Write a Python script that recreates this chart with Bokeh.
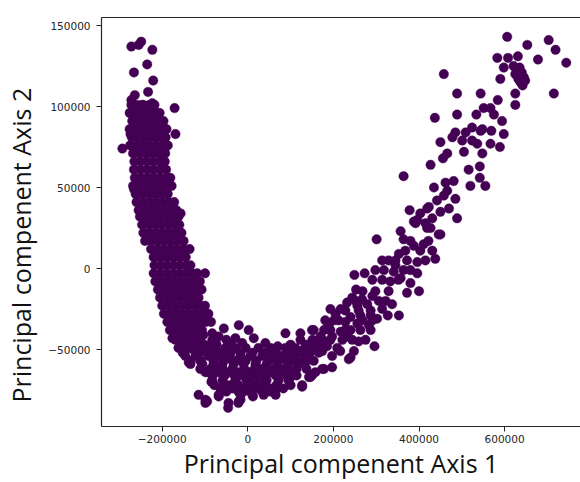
from bokeh.plotting import figure
from bokeh.models import (ColumnDataSource, LinearAxis, FixedTicker, Title,
                          Range1d, BasicTickFormatter)
from bokeh.embed import file_html
from bokeh.resources import INLINE

# ---------------- data ----------------
x_ticks = [-200000, 0, 200000, 400000, 600000]
y_ticks = [-50000, 0, 50000, 100000, 150000]
x_tick_labels = ["\u2212200000", "0", "200000", "400000", "600000"]
y_tick_labels = ["\u221250000", "0", "50000", "100000", "150000"]
x_label = "Principal compenent Axis 1"
y_label = "Principal compenent Axis 2"

# sparse top of the left branch
left_tip = [(-272000, 137000), (-255000, 138000), (-249000, 140000), (-223000, 135000),
            (-235000, 126000), (-266000, 121000), (-221000, 116000), (-233000, 109000),
            (-264000, 107000), (-272000, 104000), (-171000, 99000), (-247000, 101000),
            (-223000, 102000), (-212000, 96000), (-270000, 95000), (-204000, 91000),
            (-196000, 87000), (-169000, 83000), (-274000, 83000), (-293000, 74000),
            (-192000, 81000), (-192000, 75000), (-188000, 56000), (-157000, 34000),
            (-266000, 49000)]

# dense left branch: (pc2, [pc1 ...]) rows
left_rows = [
    (101000, [-272000, -258000, -244000, -230000, -218000]),
    (96000, [-276000, -262000, -248000, -234000, -220000, -206000]),
    (91000, [-270000, -255000, -240000, -225000, -210000, -197000]),
    (86000, [-276000, -262000, -247000, -232000, -217000, -202000, -190000]),
    (81000, [-271000, -256000, -241000, -226000, -211000, -196000]),
    (76000, [-275000, -260000, -245000, -230000, -215000, -200000, -187000]),
    (71000, [-268000, -253000, -238000, -223000, -208000, -193000]),
    (66000, [-265000, -250000, -235000, -220000, -205000, -194000]),
    (61000, [-266000, -251000, -236000, -221000, -206000, -191000]),
    (56000, [-264000, -249000, -234000, -219000, -204000, -189000, -181000]),
    (51000, [-268000, -253000, -238000, -223000, -208000, -193000, -178000]),
    (46000, [-262000, -247000, -232000, -217000, -202000, -187000]),
    (41000, [-260000, -245000, -230000, -215000, -200000, -185000, -172000]),
    (36000, [-255000, -240000, -225000, -210000, -195000, -180000, -167000]),
    (32000, [-252000, -237000, -222000, -207000, -192000, -177000, -162000]),
    (27000, [-247000, -232000, -217000, -202000, -187000, -172000, -160000]),
    (22000, [-244000, -229000, -214000, -199000, -184000, -169000, -155000]),
    (17000, [-240000, -225000, -210000, -195000, -180000, -165000, -150000]),
    (12000, [-226000, -211000, -196000, -181000, -166000, -151000, -136000]),
    (7000, [-220000, -205000, -190000, -175000, -160000, -145000]),
    (2000, [-218000, -203000, -188000, -173000, -158000, -143000, -134000]),
    (-3000, [-220000, -205000, -190000, -175000, -160000, -145000, -130000, -118000, -100000]),
    (-8000, [-216000, -201000, -186000, -171000, -156000, -141000, -126000, -112000]),
    (-13000, [-210000, -195000, -180000, -165000, -150000, -135000, -120000, -108000]),
    (-18000, [-205000, -190000, -175000, -160000, -145000, -130000, -115000]),
    (-23000, [-200000, -185000, -170000, -155000, -140000, -125000, -110000, -100000]),
    (-28000, [-196000, -181000, -166000, -151000, -136000, -121000, -106000, -92000]),
    (-33000, [-188000, -173000, -158000, -143000, -128000, -113000, -98000, -86000]),
    (-38000, [-182000, -167000, -152000, -137000, -122000, -107000]),
    (-43000, [-176000, -161000, -146000, -131000, -116000]),
]

# dense bottom of the curve: (pc2, [pc1 ...]) rows
bottom_rows = [
    (-44000, [-169000, -150000, -134000, -111000, -83000, -50000, 123000, 151000, 175000]),
    (-47000, [-157000, -129000, -101000, -73000, -40000, 100000, 137000, 165000]),
    (-49000, [-162000, -139000, -120000, -99000, -76000, -52000, -29000, -5000, 25000, 53000, 88000, 111000, 135000]),
    (-52000, [-152000, -111000, -87000, -64000, -40000, -17000, 11000, 39000, 67000, 95000, 123000, 146000]),
    (-54000, [-146000, -122000, -92000, -68000, -45000, -17000, 6000, 34000, 58000, 81000, 104000]),
    (-57000, [-134000, -111000, -80000, -57000, -29000, -5000, 20000, 48000, 72000, 91000, 114000, 137000]),
    (-59000, [-134000, -106000, -80000, -59000, -33000, -10000, 18000, 44000, 69000, 95000, 118000]),
    (-62000, [-111000, -87000, -59000, -36000, -8000, 16000, 39000, 62000, 91000, 114000, 137000]),
    (-64000, [-94000, -68000, -45000, -22000, 2000, 30000, 53000, 79000, 104000]),
    (-66000, [-82000, -54000, -31000, -10000, 16000, 39000, 65000, 91000, 114000]),
    (-69000, [-83000, -59000, -29000, -3000, 20000, 44000, 72000, 95000]),
    (-72000, [-78000, -50000, -22000, 6000, 34000, 67000, 100000]),
    (-74000, [-64000, -36000, -8000, 25000, 53000, 83000]),
    (-76000, [-50000, -22000, 6000, 34000, 53000]),
    (-78000, [-115000, -68000, -17000, 11000, 37000, 65000]),
    (-83000, [-99000, -45000, -22000]),
]

bottom_scatter = [(-99000, -81000), (-46000, -86000), (-68000, -79000), (-17000, -81000),
                  (12000, -79000), (37000, -77000), (65000, -75000), (127000, -73000),
                  (-21000, -35000), (2000, -38000), (-56000, -37000), (14000, -43000),
                  (41000, -46000), (-13000, -46000), (88000, -40000), (123000, -40000),
                  (150000, -38000), (193000, -25000), (-138000, -58000), (-99000, -64000),
                  (174000, -62000), (150000, -66000), (-95000, -82000), (-21000, -82000),
                  (-68000, -42000), (-83000, -40000), (-115000, -35000), (-104000, -41000),
                  (-29000, -43000), (-150000, -52000), (-128000, -50000), (-110000, -57000),
                  (-85000, -70000), (-72000, -62000), (-40000, -72000), (-20000, -66000),
                  (10000, -70000), (30000, -62000), (60000, -56000), (85000, -62000),
                  (108000, -52000), (100000, -67000), (70000, -48000), (45000, -52000),
                  (-40000, -56000), (-55000, -66000), (-10000, -76000), (40000, -67000),
                  (-87000, -48000)]

right_low = [(301000, 18000), (357000, 23000), (364000, 18000), (392000, 28000), (419000, 25000),
             (450000, 21000), (388000, 14000), (411000, 15000), (431000, 11000), (438000, 6000),
             (353000, 9000), (329000, 5000), (314000, 5000), (372000, 5000), (396000, 4000),
             (345000, 2000), (318000, -1000), (341000, -2000), (364000, -1000), (396000, -3000),
             (314000, -7000), (333000, -8000), (357000, -6000), (380000, -9000), (372000, -15000),
             (400000, -14000), (249000, -4000), (273000, -3000), (253000, -13000), (244000, -18000),
             (267000, -19000), (291000, -17000), (306000, -20000), (279000, -22000), (256000, -23000),
             (232000, -21000), (337000, -22000), (314000, -25000), (327000, -29000), (353000, -29000),
             (302000, -31000), (287000, -29000), (263000, -29000), (240000, -30000), (217000, -25000),
             (205000, -28000), (201000, -32000), (228000, -33000), (256000, -34000), (283000, -35000),
             (263000, -38000), (240000, -38000), (217000, -39000), (189000, -35000), (178000, -38000),
             (154000, -38000), (170000, -42000), (197000, -42000), (232000, -42000), (259000, -45000),
             (296000, -48000), (135000, -48000), (154000, -48000), (185000, -48000), (209000, -49000),
             (248000, -51000), (139000, -53000), (166000, -52000), (197000, -54000), (240000, -55000),
             (154000, -57000), (131000, -57000), (178000, -62000), (197000, -61000), (158000, -64000),
             (143000, -67000), (127000, -72000), (146000, -67000), (236000, -56000),
             (419000, 37000), (396000, 30000), (427000, 25000), (446000, 21000),
             (123000, -51000), (146000, -51000), (174000, -51000), (216000, -51000),
             (165000, -44000), (193000, -44000), (221000, -44000), (244000, -44000), (275000, -44000),
             (193000, -38000), (228000, -38000), (287000, -38000),
             (181000, -32000), (212000, -32000), (268000, -32000), (291000, -32000),
             (228000, -26000), (259000, -26000), (287000, -26000),
             (252000, -20000), (322000, -20000), (268000, -14000), (298000, -14000), (329000, -14000),
             (291000, -7000), (352000, -7000), (298000, -1000), (380000, -1000),
             (345000, 5000), (415000, 5000), (368000, 11000), (403000, 11000),
             (380000, 17000), (422000, 17000)]

right_high = [(606000, 143000), (653000, 138000), (703000, 141000), (719000, 135000), (744000, 127000),
              (678000, 129000), (583000, 130000), (608000, 130000), (631000, 131000), (598000, 124000),
              (621000, 125000), (635000, 124000), (625000, 120000), (645000, 118000), (637000, 115000),
              (590000, 117000), (458000, 120000), (715000, 108000), (625000, 108000), (625000, 101000),
              (584000, 104000), (544000, 108000), (489000, 108000), (437000, 93000), (489000, 95000),
              (534000, 95000), (551000, 99000), (567000, 99000), (575000, 95000), (594000, 91000),
              (598000, 83000), (569000, 85000), (548000, 86000), (544000, 85000), (524000, 87000),
              (509000, 84000), (485000, 84000), (478000, 81000), (501000, 79000), (524000, 79000),
              (536000, 77000), (450000, 78000), (567000, 77000), (589000, 75000), (505000, 72000),
              (548000, 71000), (466000, 71000), (456000, 68000), (427000, 64000), (516000, 61000),
              (542000, 63000), (542000, 56000), (520000, 51000), (555000, 51000), (364000, 57000),
              (462000, 53000), (481000, 54000), (435000, 50000), (466000, 48000), (485000, 43000),
              (458000, 45000), (442000, 42000), (470000, 37000), (423000, 38000), (450000, 35000),
              (378000, 36000), (403000, 34000), (431000, 31000), (489000, 31000), (388000, 29000),
              (415000, 28000), (628000, 122000), (640000, 121000), (632000, 117000), (642000, 113000),
              (648000, 116000)]

# ---------------- assemble ----------------
pc1, pc2 = [], []
for pts in (left_tip, bottom_scatter, right_low, right_high):
    for a, b in pts:
        pc1.append(a)
        pc2.append(b)
for rows in (left_rows, bottom_rows):
    for yv, xs in rows:
        for xv in xs:
            pc1.append(xv)
            pc2.append(yv)

src = ColumnDataSource(dict(x=pc1, y=pc2))

AX = "#262626"
TICK_FONT = "DejaVu Sans"

p = figure(width=580, height=482, output_backend="svg", toolbar_location=None,
           x_range=Range1d(-341800, 777300), y_range=Range1d(-97530, 154940),
           min_border_left=101, min_border_right=0, min_border_top=17, min_border_bottom=56,
           background_fill_color="white", border_fill_color="white")
p.outline_line_color = None
p.xgrid.visible = False
p.ygrid.visible = False

p.scatter(x="x", y="y", source=src, size=9.5, fill_color="#440154",
          line_color="#440154", line_width=0.4)

for ax, ticks, labels in ((p.xaxis[0], x_ticks, x_tick_labels), (p.yaxis[0], y_ticks, y_tick_labels)):
    ax.ticker = FixedTicker(ticks=ticks)
    ax.formatter = BasicTickFormatter(use_scientific=False)
    ax.major_label_overrides = {t: l for t, l in zip(ticks, labels)}
    ax.axis_line_color = AX
    ax.axis_line_width = 1.2
    ax.major_tick_line_color = AX
    ax.major_tick_out = 5
    ax.major_tick_in = 0
    ax.minor_tick_out = 0
    ax.minor_tick_in = 0
    ax.major_label_text_font = TICK_FONT
    ax.major_label_text_font_size = "10.5px"
    ax.major_label_text_color = AX
p.xaxis[0].major_label_standoff = 3
p.yaxis[0].major_label_standoff = 6

xa = p.xaxis[0]
xa.axis_label = x_label
xa.axis_label_text_font = "Open Sans"
xa.axis_label_text_font_size = "25px"
xa.axis_label_text_font_style = "normal"
xa.axis_label_text_color = "#111111"
xa.axis_label_standoff = 0

# small spacer between the y tick labels and the y title
ya = p.yaxis[0]
ya.axis_label = " "
ya.axis_label_text_font_size = "1px"
ya.axis_label_standoff = 3

top = LinearAxis(ticker=FixedTicker(ticks=[]), major_label_text_font_size="0px",
                 major_tick_out=0, major_tick_in=0, minor_tick_out=0, minor_tick_in=0,
                 axis_line_color=AX, axis_line_width=1.2)
p.add_layout(top, "above")

ytitle = Title(text=y_label, align="left", offset=24, standoff=2, vertical_align="bottom",
               text_font="Open Sans", text_font_size="25px", text_font_style="normal",
               text_color="#111111")
p.add_layout(ytitle, "left")

open("out.html", "w").write(file_html(p, INLINE))
